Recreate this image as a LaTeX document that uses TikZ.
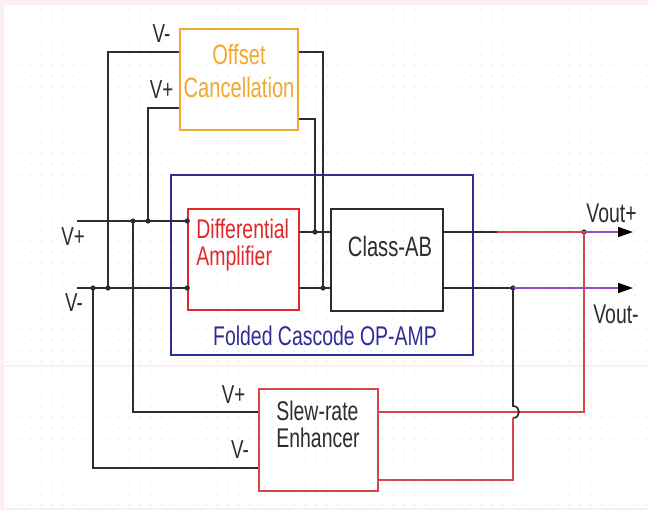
\documentclass[tikz,border=0pt]{standalone}
\usepackage{fontspec}
\setmainfont{Liberation Sans}[FakeStretch=0.72]
\usetikzlibrary{
    arrows.meta,
    positioning,
    calc
}
\definecolor{OffsetOrange}{RGB}{242,168,48}
\definecolor{DiffRed}{RGB}{226,38,42}
\definecolor{WireRed}{RGB}{212,70,72}
\definecolor{OutPurple}{RGB}{148,76,196}
\definecolor{CascBlue}{RGB}{48,44,150}
\definecolor{WireBlack}{RGB}{45,45,45}
\definecolor{PaperPink}{RGB}{252,238,242}
\definecolor{GridDot}{RGB}{205,200,204}
\tikzset{
  blk/.style   = {draw, line width=0.7pt, inner sep=0pt},
  wire/.style  = {WireBlack, line width=0.85pt},
  rwire/.style = {WireRed, line width=0.85pt},
  pwire/.style = {OutPurple, line width=0.85pt,
                  -{Triangle[length=7.5pt, width=5pt, color=black]}},
  dot/.style   = {circle, fill=WireBlack, inner sep=0pt, minimum size=2.6pt},
  pin/.style   = {inner sep=0pt, anchor=base, WireBlack,
                  font=\fontsize{13}{13}\selectfont},
  txt/.style   = {inner sep=0pt, align=left, font=\fontsize{13.5}{13.2}\selectfont}
}

\begin{document}
\begin{tikzpicture}[x=0.5pt, y=-0.5pt]
\useasboundingbox (0,0) rectangle (648,510);
% sheet with dot grid
\fill[PaperPink] (0,0) rectangle (648,510);
\fill[white] (4,5) rectangle (648,508);
\foreach \i in {0,...,58}
  \foreach \j in {0,...,45}
    \fill[GridDot] (8+\i*11, 10+\j*11) circle (0.35pt);
\draw[PaperPink, line width=0.6pt] (4,366) -- (648,366);

% blocks
\node[blk, draw=OffsetOrange, minimum width=59pt, minimum height=50.5pt] (offset) at (239,79.5) {};
\node[blk, draw=DiffRed, minimum width=55.5pt, minimum height=50.5pt] (diff) at (243.5,259.5) {};
\node[blk, draw=WireBlack, minimum width=56pt, minimum height=51pt] (classab) at (387,260) {};
\node[blk, draw=CascBlue, minimum width=151pt, minimum height=90pt] (opamp) at (322,265) {};
\node[blk, draw=WireRed, minimum width=59.5pt, minimum height=51pt] (slew) at (318.5,440) {};

\node[txt, anchor=north, align=center, OffsetOrange, font=\fontsize{14}{16.5}\selectfont]
    (offtxt) at (239,44) {Offset\\Cancellation};
\node[txt, anchor=north west, DiffRed] (difftxt) at (196,219) {Differential\\Amplifier};
\node[txt, anchor=base, WireBlack, font=\fontsize{14}{14}\selectfont]
    (classtxt) at (390,256) {Class-AB};
\node[txt, anchor=base, CascBlue] (opamptxt) at (325,345) {Folded Cascode OP-AMP};
\node[txt, anchor=north west, WireBlack]
    (slewtxt) at (276,401) {Slew-rate\\Enhancer};

% inputs, junctions and pins
\coordinate (vp) at (77,221);
\coordinate (vm) at (77,288);
\node[dot] (jp1) at (133,221) {};
\node[dot] (jp2) at (148,221) {};
\node[dot] (jm1) at (93,288) {};
\node[dot] (jm2) at (108,288) {};
\node[dot] (dinp) at (diff.west |- vp) {};
\node[dot] (dinm) at (diff.west |- vm) {};
\node[dot] (cinp) at (315,232) {};
\node[dot] (cinm) at (323,288) {};
\node[dot] (outp) at (584,232) {};
\node[dot] (outm) at (513,288) {};

\coordinate (off-inm) at (offset.west |- 0,52);
\coordinate (off-inp) at (offset.west |- 0,108);
\coordinate (off-outm) at (offset.east |- 0,52);
\coordinate (off-outp) at (offset.east |- 0,119);
\coordinate (slew-inp) at (slew.west |- 0,412);
\coordinate (slew-inm) at (slew.west |- 0,468);
\coordinate (slew-outp) at (slew.east |- 0,412);
\coordinate (slew-outm) at (slew.east |- 0,480);
\coordinate (redstart) at (497,232);
\coordinate (voutp) at (633,232);
\coordinate (voutm) at (633,288);
\coordinate (hop) at (513,412);

% wiring
\draw[wire] (vp) -- (dinp.center);
\draw[wire] (vm) -- (dinm.center);
\draw[wire] (jm2.center) |- (off-inm);
\draw[wire] (jp2.center) |- (off-inp);
\draw[wire] (jp1.center) |- (slew-inp);
\draw[wire] (jm1.center) |- (slew-inm);
\draw[wire] (off-outm) -| (cinm.center);
\draw[wire] (off-outp) -| (cinp.center);
\draw[wire] (diff.east |- cinp) -- (classab.west |- cinp);
\draw[wire] (diff.east |- cinm) -- (classab.west |- cinm);
\draw[wire] (classab.east |- outp) -- (redstart);
\draw[rwire] (redstart) -- (outp.center);
\draw[wire] (classab.east |- outm) -- (outm.center);
\draw[pwire] (outp.center) -- (voutp);
\draw[pwire] (outm.center) -- (voutm);
\draw[rwire] (slew-outp) -| (outp.center);
\draw[wire] (outm.center) -- ($(hop)+(0,-6)$)
    .. controls ($(hop)+(8,-6)$) and ($(hop)+(8,6)$) .. ($(hop)+(0,6)$);
\draw[rwire] ($(hop)+(0,6)$) |- (slew-outm);

% pin labels
\node[pin] (l-offm) at (161.5,42) {V-};
\node[pin] (l-offp) at (161.5,98) {V+};
\node[pin] (l-vp) at (73,245) {V+};
\node[pin] (l-vm) at (74,311) {V-};
\node[pin] (l-slewp) at (233.5,403) {V+};
\node[pin] (l-slewm) at (240,458) {V-};
\node[pin, font=\fontsize{13.5}{13.5}\selectfont] (l-voutp) at (611.5,222) {Vout+};
\node[pin, font=\fontsize{13.5}{13.5}\selectfont] (l-voutm) at (616,323) {Vout-};
\end{tikzpicture}
\end{document}
